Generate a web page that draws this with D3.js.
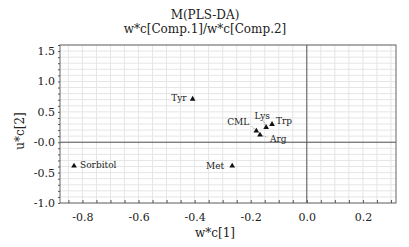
<!DOCTYPE html>
<html lang="en">
<head>
<meta charset="utf-8">
<title>M(PLS-DA) loadings</title>
<script src="https://d3js.org/d3.v7.min.js"></script>
<style>
  body { margin: 0; background: #fff; }
  .axis path { display: none; }
  .axis line { stroke: #555; }
  .axis text { fill: #222; }
</style>
</head>
<body>
<script>
// data
var names  = ["Tyr", "Lys", "Trp", "CML", "Arg", "Met", "Sorbitol"];
var wc1    = [-0.407, -0.145, -0.124, -0.180, -0.167, -0.266, -0.830];
var uc2    = [0.71, 0.244, 0.295, 0.186, 0.12, -0.39, -0.39];

var xTicks = [-0.8, -0.6, -0.4, -0.2, 0.0, 0.2];
var xTickLabels = ["-0.8", "-0.6", "-0.4", "-0.2", "0.0", "0.2"];
var yTicks = [1.5, 1.0, 0.5, 0.0, -0.5, -1.0];
var yTickLabels = ["1.5", "1.0", "0.5", "-0.0", "-0.5", "-1.0"];

// label placement (offsets from point, px) and leader lines
var labelPos = {
  "Tyr":      { dx: -6,  dy: -1,  anchor: "end" },
  "Lys":      { dx: -4,  dy: -12, anchor: "middle", leader: true },
  "Trp":      { dx: 4,   dy: -3,  anchor: "start" },
  "CML":      { dx: -7,  dy: -9,  anchor: "end", leader: true },
  "Arg":      { dx: 10,  dy: 4,   anchor: "start", leader: true },
  "Met":      { dx: -8,  dy: 0,   anchor: "end" },
  "Sorbitol": { dx: 6,   dy: -1,  anchor: "start" }
};

var serif = "DejaVu Serif";
var w = 409, h = 247;
var margin = { top: 45, right: 13, bottom: 44, left: 60 };

var svg = d3.select("body").append("svg")
  .attr("width", w).attr("height", h);

var xScale = d3.scaleLinear()
  .domain([-0.88, 0.318])
  .range([margin.left, w - margin.right]);
var yScale = d3.scaleLinear()
  .domain([-1.0, 1.6])
  .range([h - margin.bottom, margin.top]);

// grid
var xGrid = d3.range(-0.85, 0.32, 0.05);
var yGrid = d3.range(-1.0, 1.61, 0.1);
svg.append("g").selectAll("line").data(xGrid).enter().append("line")
  .attr("x1", function(d){ return xScale(d); })
  .attr("x2", function(d){ return xScale(d); })
  .attr("y1", margin.top).attr("y2", h - margin.bottom)
  .attr("stroke", "#e6e6e6").attr("stroke-width", 1);
svg.append("g").selectAll("line").data(yGrid).enter().append("line")
  .attr("y1", function(d){ return yScale(d); })
  .attr("y2", function(d){ return yScale(d); })
  .attr("x1", margin.left).attr("x2", w - margin.right)
  .attr("stroke", "#e6e6e6").attr("stroke-width", 1);

// zero lines
svg.append("line")
  .attr("x1", xScale(0)).attr("x2", xScale(0))
  .attr("y1", margin.top).attr("y2", h - margin.bottom)
  .attr("stroke", "#555");
svg.append("line")
  .attr("y1", yScale(0)).attr("y2", yScale(0))
  .attr("x1", margin.left).attr("x2", w - margin.right)
  .attr("stroke", "#555");

// frame
svg.append("rect")
  .attr("x", margin.left).attr("y", margin.top)
  .attr("width", w - margin.left - margin.right)
  .attr("height", h - margin.top - margin.bottom)
  .attr("fill", "none").attr("stroke", "#666");

// minor ticks
svg.append("g").attr("class", "axis")
  .attr("transform", "translate(0," + (h - margin.bottom) + ")")
  .call(d3.axisBottom(xScale).tickValues(xGrid).tickSize(-3).tickFormat(""));
svg.append("g").attr("class", "axis")
  .attr("transform", "translate(" + margin.left + ",0)")
  .call(d3.axisLeft(yScale).tickValues(yGrid).tickSize(2).tickFormat(""));

// main axes
svg.append("g").attr("class", "axis")
  .attr("transform", "translate(0," + (h - margin.bottom) + ")")
  .call(d3.axisBottom(xScale).tickValues(xTicks).tickSize(0).tickPadding(10)
    .tickFormat(function(d, i){ return xTickLabels[i]; }))
  .attr("font-family", serif).attr("font-size", 11);
svg.append("g").attr("class", "axis")
  .attr("transform", "translate(" + margin.left + ",0)")
  .call(d3.axisLeft(yScale).tickValues(yTicks).tickSize(0).tickPadding(5)
    .tickFormat(function(d, i){ return yTickLabels[i]; }))
  .attr("font-family", serif).attr("font-size", 11);

// titles
function label(x, y, size, str) {
  return svg.append("text").attr("x", x).attr("y", y)
    .attr("text-anchor", "middle").attr("font-size", size)
    .attr("font-family", serif).attr("fill", "#222")
    .text(str);
}
label(205, 19, 12, "M(PLS-DA)");
label(205, 33, 12, "w*c[Comp.1]/w*c[Comp.2]");
label(215, 237, 12, "w*c[1]");
label(0, 0, 12, "u*c[2]").attr("transform", "translate(24,131) rotate(-90)");

// points
var pts = names.map(function(n, i){ return { name: n, x: wc1[i], y: uc2[i] }; });
var tri = d3.symbol().type(d3.symbolTriangle).size(14);

pts.forEach(function(p){
  var lp = labelPos[p.name];
  var px = xScale(p.x), py = yScale(p.y);
  if (lp.leader) {
    svg.append("line")
      .attr("x1", px).attr("y1", py)
      .attr("x2", px + lp.dx * 0.75).attr("y2", py + lp.dy * 0.6)
      .attr("stroke", "#888").attr("stroke-width", 0.8)
      .attr("stroke-dasharray", "1.5,1");
  }
  svg.append("path").attr("d", tri)
    .attr("transform", "translate(" + px + "," + py + ")")
    .attr("fill", "#111");
  svg.append("text")
    .attr("x", px + lp.dx).attr("y", py + lp.dy)
    .attr("dy", "0.35em")
    .attr("text-anchor", lp.anchor)
    .attr("font-size", 9).attr("font-family", serif).attr("fill", "#222")
    .text(p.name);
});
</script>
</body>
</html>
